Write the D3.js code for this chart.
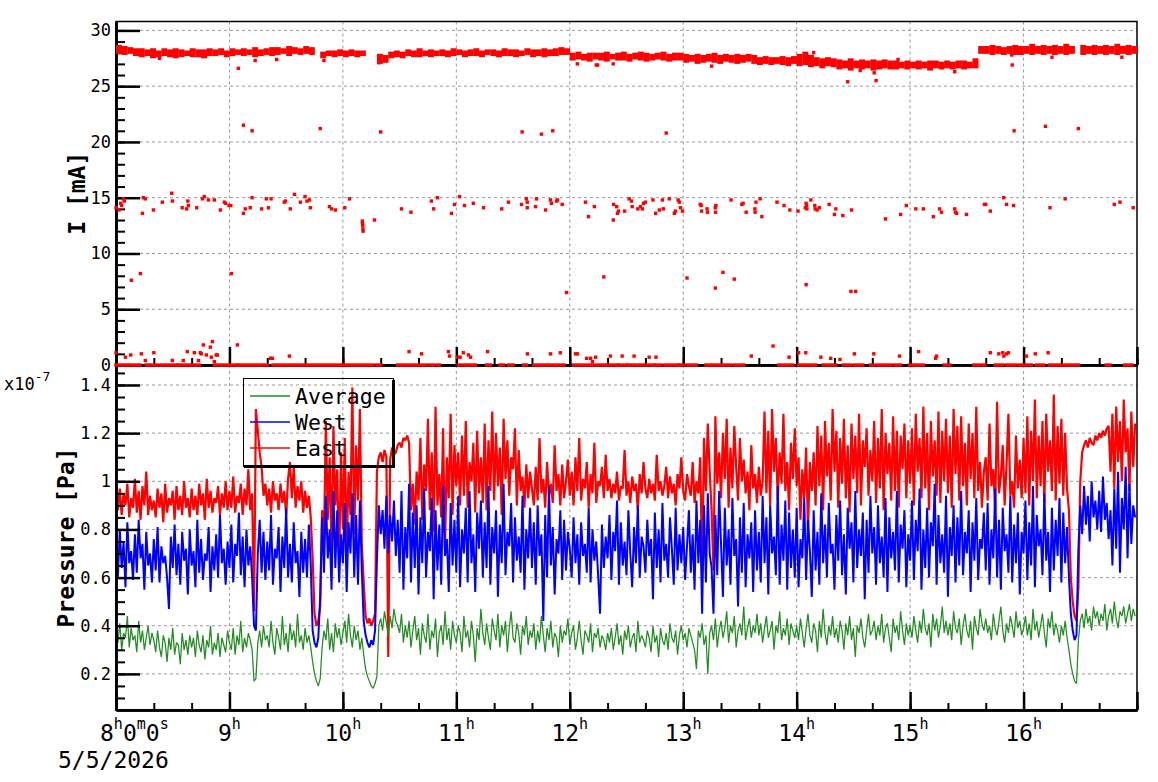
<!DOCTYPE html>
<html>
<head>
<meta charset="utf-8">
<script src="https://cdn.jsdelivr.net/npm/d3@7"></script>
<style>
  body { margin: 0; background: #fff; }
  svg { display: block; }
  text { font-family: "DejaVu Sans Mono", monospace; fill: #000; }
</style>
</head>
<body>
<svg id="chart" width="1158" height="782"></svg>
<script>
// time is in minutes after 08:00 on 5/5/2026, pressure samples are one per minute
// pressure values are in units of 1e-9 Pa (axis shows x10^-7)
const east = [
  94,88,97,86,95,90,99,85,93,89,101,87,96,84,98,90,104,86,94,88,
  92,85,97,89,95,83,99,87,93,90,96,84,98,88,94,86,100,89,93,85,
  97,88,94,86,99,90,95,84,101,89,96,87,93,91,98,86,95,89,100,88,
  96,89,102,87,94,91,99,86,97,90,105,88,95,46,130,121,112,106,94,99,
  90,97,87,100,92,95,88,99,91,96,86,101,108,93,106,89,98,92,100,87,
  96,89,94,85,68,45,40,42,48,88,75,125,84,110,72,123,90,105,66,112,
  80,118,70,104,86,139,78,115,92,130,74,58,44,41,43,40,42,45,104,110,
  112,108,113,110,27,109,114,111,112,115,116,114,118,117,119,116,88,99,82,104,
  92,118,84,107,96,126,88,112,79,131,90,103,85,122,72,110,93,128,86,115,
  98,112,90,119,94,125,89,108,100,116,87,121,95,110,91,124,88,117,96,129,
  92,120,98,114,86,126,101,117,94,110,105,122,90,113,96,102,89,107,93,104,
  97,90,106,92,118,95,101,89,108,94,99,91,115,96,103,90,107,93,100,109,
  94,104,90,110,96,118,92,101,97,108,89,103,95,116,91,100,98,106,93,111,
  96,101,93,99,95,104,92,98,97,113,94,100,91,102,96,99,88,103,95,108,
  97,93,101,95,99,92,111,96,100,94,98,106,93,102,95,99,90,103,97,110,
  96,92,103,98,94,108,91,100,95,110,62,118,96,124,104,88,63,127,99,112,
  93,120,101,126,89,114,97,123,106,92,118,100,109,95,104,88,115,97,103,91,
  106,94,100,129,95,121,90,130,104,118,92,112,99,128,96,108,88,116,101,122,
  98,110,84,105,93,114,80,108,96,112,90,123,98,119,88,125,102,116,92,130,
  104,121,89,118,99,126,93,115,87,124,101,119,95,128,90,117,106,122,94,113,
  100,125,91,118,97,130,88,120,103,116,92,127,96,121,89,119,105,124,93,117,
  99,122,90,128,104,118,93,131,97,120,88,125,102,117,94,129,91,121,100,126,
  95,119,89,130,103,123,92,127,98,116,90,124,101,120,93,131,96,108,89,104,
  110,92,124,98,105,88,133,95,102,115,90,107,128,94,100,89,119,97,109,93,
  118,95,127,90,121,100,134,93,119,98,125,91,128,104,117,96,136,92,123,99,
  126,94,120,97,88,60,50,44,42,56,100,112,115,117,114,118,116,115,119,117,
  120,118,121,119,122,123,104,128,97,131,108,125,100,134,112,122,96,129,106,124
];

const west = [
  72,60,80,64,75,56,83,66,71,59,78,62,84,68,74,55,79,65,70,58,
  76,63,81,58,73,66,69,60,47,77,64,82,61,74,57,79,67,72,53,80,
  65,71,56,84,62,76,59,70,67,81,54,73,63,78,60,86,66,72,57,75,
  64,82,58,74,69,87,61,77,56,80,65,73,60,40,38,70,84,62,79,59,
  75,63,86,57,72,68,81,54,77,64,89,60,74,58,83,66,71,52,79,62,
  76,60,82,65,38,33,31,35,52,85,62,94,68,80,55,96,64,88,58,78,
  66,91,54,83,70,95,60,86,57,92,63,42,36,33,31,34,32,38,67,90,
  78,88,72,94,70,86,75,92,69,84,62,96,55,81,68,99,58,87,64,90,
  53,85,66,97,60,79,71,93,51,88,63,82,57,98,69,76,54,91,65,84,
  62,94,56,80,70,89,58,96,66,78,54,87,72,92,60,83,64,98,57,81,
  70,88,52,82,66,99,61,79,73,91,58,85,67,77,62,94,55,80,68,89,
  64,83,57,90,69,78,42,86,60,98,65,81,53,76,70,88,59,84,63,79,
  72,60,85,66,78,57,83,69,74,62,89,58,80,67,75,61,45,82,64,77,
  68,86,59,79,71,92,57,83,65,75,61,88,70,56,81,66,90,60,77,73,
  62,84,69,76,51,87,64,80,58,91,67,74,60,85,72,57,89,63,78,66,
  81,59,73,88,62,78,55,92,66,84,45,90,58,95,70,64,45,86,61,96,
  74,52,89,65,80,57,93,69,76,48,85,62,91,56,78,68,83,54,88,63,
  79,58,94,66,85,53,90,70,77,61,98,57,82,67,92,55,87,64,80,60,
  89,56,76,68,93,59,84,71,52,88,63,79,57,95,66,82,60,91,70,74,
  55,86,67,92,61,78,53,89,72,83,58,96,64,80,69,87,51,84,62,94,
  70,81,57,90,66,77,60,93,54,85,68,79,63,96,58,82,72,88,56,78,
  67,92,59,84,71,97,55,80,64,89,60,83,73,99,57,86,66,78,62,94,
  52,81,69,90,58,85,65,96,61,79,70,88,54,83,67,93,59,76,72,87,
  63,91,57,80,68,97,60,84,55,89,71,78,62,94,58,82,66,87,53,79,
  70,92,59,83,65,98,56,86,73,80,61,95,67,79,54,89,63,84,69,93,
  58,87,66,81,60,45,38,34,36,72,90,78,98,82,94,75,100,85,92,80,
  96,79,102,84,91,76,88,65,97,72,104,62,93,80,106,68,99,74,90,85
];

const average = [
  38,33,41,30,37,35,44,31,39,34,36,29,42,33,38,30,35,40,32,37,
  34,29,38,31,27,36,33,25,35,30,39,28,33,32,24,37,30,34,28,36,
  31,35,27,38,32,29,36,26,34,31,40,28,33,30,37,27,35,32,29,38,
  33,30,39,28,36,32,42,29,35,31,37,34,30,17,18,33,38,31,40,34,
  36,31,42,33,28,39,35,30,44,32,37,29,41,34,38,31,45,33,36,30,
  39,33,36,31,25,20,17,15,18,31,38,34,43,30,37,29,41,35,39,32,
  37,42,33,45,36,31,40,34,38,30,35,28,22,19,17,15,14,16,19,40,
  43,38,46,41,36,44,39,47,42,40,37,45,33,40,35,42,31,38,44,34,
  39,28,41,36,33,45,30,38,35,43,27,37,40,32,46,34,39,30,42,36,
  33,40,37,29,44,35,38,31,42,36,25,39,34,47,37,32,41,35,30,43,
  38,34,45,31,40,36,42,29,39,46,35,33,41,37,28,40,36,44,32,38,
  35,41,30,38,33,44,36,29,39,34,42,31,37,35,27,40,33,38,36,43,
  32,37,40,30,35,42,34,28,38,36,33,41,29,37,35,39,31,36,34,30,
  37,33,39,30,35,41,32,36,28,38,34,40,31,35,37,29,42,33,36,34,
  31,38,35,29,40,33,36,27,39,34,32,37,30,41,35,33,38,28,36,40,
  34,37,31,39,36,33,30,22,38,35,41,32,36,20,37,40,34,43,31,38,
  42,35,39,46,33,40,37,44,31,38,41,36,48,34,39,43,35,40,37,45,
  36,41,33,39,44,35,38,42,30,40,37,46,34,39,36,43,32,41,38,35,
  40,34,43,37,31,39,45,36,33,41,38,29,42,35,47,37,32,40,36,44,
  35,39,33,42,38,30,41,36,44,34,39,27,40,37,43,35,31,38,45,36,
  38,42,34,40,36,45,33,39,41,35,29,43,37,40,34,46,38,32,41,36,
  40,35,44,38,33,42,37,47,39,36,41,31,45,38,43,35,40,48,37,42,
  36,41,34,46,39,37,43,32,40,45,38,35,42,30,44,39,36,47,41,38,
  43,37,40,34,45,39,36,42,48,38,33,41,37,44,40,35,46,39,42,36,
  39,44,36,41,34,47,38,42,35,40,45,37,31,43,39,46,36,41,38,33,
  40,36,42,35,30,24,20,17,16,34,42,45,39,47,41,44,38,48,43,46,
  40,45,42,49,38,44,47,41,50,43,39,46,44,48,41,45,49,42,47,44
];

// beam current: main band as [low, high] per 3-minute bin (null = no data), mA
const bandLo = [
  27.9,27.8,27.9,27.7,
  27.6,27.7,27.5,27.6,27.7,27.6,27.5,27.6,27.7,27.6,27.6,27.5,27.7,
  27.7,27.8,27.6,27.7,27.8,27.7,27.8,27.6,27.7,27.8,27.7,
  27.8,27.9,27.7,27.9,27.8,27.9,27.8,
  null,
  27.5,27.7,27.6,27.7,27.6,27.7,27.6,27.7,
  null,null,
  27.0,27.1,
  27.5,27.6,27.5,27.7,27.6,27.6,27.7,27.6,27.7,
  27.7,27.6,27.7,27.8,27.6,27.7,27.7,27.6,27.8,27.7,27.6,27.7,27.7,27.6,27.7,27.8,27.6,27.7,27.6,27.7,27.7,27.8,27.8,
  27.3,27.4,27.3,27.2,27.4,
  27.3,27.2,27.4,27.3,27.3,27.2,27.4,27.3,27.2,27.3,27.4,27.3,27.2,27.3,27.3,
  27.1,27.2,27.0,27.1,27.2,27.1,27.0,27.2,27.1,27.0,27.1,27.2,27.0,
  26.9,27.0,26.9,27.0,26.9,26.8,27.0,
  26.8,26.9,26.7,26.8,26.6,26.8,26.7,
  26.5,26.6,26.4,26.6,26.5,26.6,26.4,26.5,26.6,26.5,
  26.5,26.6,26.5,26.6,26.5,26.6,26.4,26.6,26.5,26.6,26.5,26.6,26.5,26.6,26.6,
  27.9,27.9,27.8,27.9,27.8,27.9,27.8,27.8,27.9,27.8,27.9,27.8,27.9,27.8,27.9,27.8,27.9,
  null,
  27.8,27.9,27.8,27.9,27.8,27.9,27.8,27.9,27.8,27.9
];
const bandHi = [
  28.7,28.6,28.5,28.4,
  28.4,28.3,28.4,28.2,28.4,28.3,28.4,28.3,28.2,28.4,28.3,28.3,28.4,
  28.3,28.4,28.2,28.4,28.3,28.4,28.3,28.5,28.3,28.4,28.5,
  28.5,28.4,28.6,28.5,28.4,28.6,28.5,
  null,
  28.1,28.2,28.2,28.3,28.2,28.3,28.2,28.2,
  null,null,
  27.9,27.8,
  28.1,28.2,28.1,28.3,28.2,28.4,28.2,28.3,28.2,
  28.3,28.2,28.4,28.3,28.2,28.3,28.4,28.2,28.3,28.3,28.2,28.4,28.3,28.3,28.2,28.4,28.3,28.3,28.4,28.3,28.4,28.5,28.4,
  28.0,28.1,27.9,28.0,28.0,
  28.0,28.1,27.9,28.0,28.1,27.9,28.0,28.1,28.0,27.9,28.0,28.1,27.9,28.0,28.0,
  27.9,27.8,27.9,27.8,27.9,28.0,27.8,27.9,27.8,27.9,27.8,27.9,27.8,
  27.6,27.7,27.6,27.6,27.7,27.6,27.7,
  27.9,28.1,27.8,27.6,27.5,27.6,27.5,
  27.4,27.3,27.5,27.3,27.4,27.3,27.4,27.3,27.4,27.3,
  27.3,27.2,27.3,27.2,27.3,27.2,27.3,27.3,27.2,27.3,27.2,27.3,27.3,27.2,27.5,
  28.6,28.6,28.7,28.6,28.5,28.6,28.7,28.6,28.6,28.8,28.6,28.7,28.6,28.7,28.6,28.8,28.6,
  null,
  28.7,28.6,28.7,28.6,28.7,28.6,28.8,28.6,28.7,28.6
];

// individual current readings away from the main band: [minute, mA]
const currentPts = [
  [0,14.1],[1.6,13.9],[2.5,14.5],[3,14.3],[3.9,14.9],[4.4,14.7],[14,13.6],[14.5,15.0],[15.5,14.9],[19.8,13.9],
  [24.5,14.6],[29.5,15.4],[29.8,14.7],[35,14.1],[37.4,14.0],[38,14.7],[38.3,14.3],[42.7,14.1],[45.7,14.9],[46.7,15.1],
  [48.9,14.8],[52,14.8],[55.2,13.9],[57.3,14.6],[58,14.5],[59.8,14.3],[60.7,14.3],[67.4,13.6],[68.4,14.0],[71,14.1],
  [72,15.0],[77,14.0],[79.5,14.9],[80.6,14.1],[82,14.9],[89,14.6],[89.6,14.7],[92.2,14.0],[94.4,15.3],[97.5,14.6],
  [100,15.1],[101,14.7],[102.3,14.8],[102.8,14.1],[112.9,14.2],[114,14.0],[116,13.9],[121,14.1],[123.5,14.9],
  [130.3,12.9],[130.4,12.7],[130.5,12.5],[130.6,12.2],[130.7,12.0],[136.7,13.0],[151,14.0],[156,13.7],[166.8,14.7],
  [168,14.0],[170,15.0],[177.4,13.6],[179,14.4],[181.7,15.1],[184.3,14.3],[189,14.5],[194.4,14.1],[204,14.0],
  [207.6,14.6],[214.5,14.4],[217,14.9],[217.5,14.6],[217.5,14.1],[221.9,14.2],[222.4,14.9],[227.2,13.9],[229.8,14.8],
  [230.3,14.5],[233,14.7],[233.5,14.8],[236,14.4],[248.3,14.6],[249.9,13.3],[253,14.2],
  [263,13.0],[263.2,14.4],[264.8,14.2],[265.2,13.6],[265.8,13.8],[269,13.8],[271.4,14.9],[272.6,14.7],[273,14.2],
  [276,14.0],[277.4,14.2],[278.4,14.0],[279,14.5],[280,14.6],[284,14.8],[285.4,13.6],[287.4,13.9],[289,14.8],
  [289.5,14.0],[292.6,14.9],[295.3,13.6],[295.9,13.8],[297.3,14.8],[297.9,14.6],[298.6,14.1],[299.6,13.8],[309,14.4],
  [309.5,14.3],[309.7,13.8],[312.6,14.0],[312.8,13.7],[317,14.1],[317.3,14.3],[317.1,13.7],[325.3,14.8],[331,14.4],
  [331.7,14.5],[333.3,13.7],[337.9,14.0],[338,13.7],[338.5,14.6],[340.7,14.9],[341.6,13.3],[349.6,14.6],[353.3,14.3],
  [356.4,13.9],[360.7,13.8],[364.6,14.1],[365,14.5],[365.2,14.3],[365.4,14.0],[367.5,14.8],[369.6,14.3],[369.8,14.0],
  [370.8,13.9],[372,14.1],[377.2,14.4],[380,13.5],[380.7,14.0],[384.4,13.4],[389,13.9],[407,13.1],[415,13.5],
  [418,14.3],[423,14.0],[427,14.0],[432.3,13.3],[435.6,14.0],[436.6,13.7],[443.6,14.0],[444,13.7],[444.6,13.6],
  [449.8,13.5],[459.3,14.4],[460,14.4],[462.4,13.8],[469.5,15.0],[471,14.4],[474.7,14.3],[494,14.1],[502,14.9],
  [528,14.4],[531,14.6],[538,14.1],
  [8.1,7.6],[12.9,8.2],[61,8.2],[238.3,6.5],[258,7.9],[302,7.8],[321,8.3],[317,6.9],[327,7.7],[365,7.2],
  [388.7,6.6],[391.2,6.6],
  [67.4,21.5],[72,21.0],[108,21.2],[140,20.9],[214.8,20.9],[225,20.7],[231,21.0],[291,20.8],[475,21.0],
  [491.6,21.4],[509,21.2],
  [23,27.5],[64.7,26.6],[73.6,27.3],[85,27.4],[110,27.3],[139,27.1],[244,27.0],[254,26.9],[254.7,26.9],[263,27.0],
  [315,26.8],[387,25.4],[402,25.5],[393.6,26.4],[401,26.2],[473.7,27.8],[474,26.9],[495,27.6],[532,27.6],
  [443.6,26.3],[369,28.0],[413.6,27.4],
  [0,1.1],[5,0.7],[7.8,0.9],[13.4,1.0],[15.5,0.4],[20,1.1],[29.8,0.4],[35.6,0.4],[37.7,1.2],[41.4,1.1],
  [43.6,0.4],[44.6,1.1],[45.1,1.0],[46.2,1.8],[47.8,0.9],[49.9,1.6],[51,2.1],[50.4,0.7],[52,0.3],[53,0.9],
  [53.6,0.9],[64.2,1.8],[81.7,0.6],[82.7,0.6],[91.7,0.8],[155,1.2],[161.6,1.0],[175.8,1.2],[176.4,0.8],[180.6,0.7],
  [182,0.7],[183.7,1.1],[186.4,0.9],[187.5,0.7],[196.5,1.2],[217.6,1.0],[229.8,1.0],[235,1.1],[243,1.0],[244,1.0],
  [248.9,0.6],[251,0.6],[252,0.3],[253.7,0.7],[261.5,0.8],[267.7,0.8],[274,0.8],[282,0.7],[285.6,0.7],[336,0.8],
  [347.5,1.7],[356,0.7],[361,1.1],[364.8,1.1],[372.8,0.7],[378,0.6],[382.9,0.5],[390.5,1.0],[400.8,1.0],[414.4,0.8],
  [424.5,1.2],[433.5,0.6],[434,0.8],[462.4,1.1],[466.9,1.0],[469,1.1],[469.6,0.8],[471,1.0],[472,1.1],[481.5,0.8],
  [486.2,1.0],[493,1.1]
];

// stretches of time where the current reads 0: [from minute, to minute]
const zeroRuns = [
  [0,12.7],[16,22],[24,32],[33,44],[52,64],[65,80],[83,118.5],[120,136],[138,140],[149,164],[166,168],[170,171],
  [181,182],[184,185.5],[187,190],[196,198],[203,205],[207.6,210],[215.5,217],[221,237],[242,251.4],[253,259],
  [260,265],[266,270],[271,279],[280.5,284.4],[285.4,288],[290,297],[298,300],[302,307],[312,314.6],[315.6,325],
  [327,332],[350.6,358],[361,370],[374,380.7],[384.6,388.5],[390.5,395],[399,401],[403,410],[412,415],[419.6,427],
  [438,441],[453.7,456.6],[458.6,459.5],[465,469],[471,476],[478,484],[486.8,490.7],[493.6,498.4],[500,509],
  [523.7,525.7],[533.5,537.4]
];

const hourTicks = [0,60,120,180,240,300,360,420,480,540];
const hourLabels = ["8","9","10","11","12","13","14","15","16"];
const currentTicks = [0,5,10,15,20,25,30];
const pressureTicks = [20,40,60,80,100,120,140];

const svg = d3.select("#chart");
const left = 116, right = 1137, topY = 21.5, midY = 365, botY = 710;

const x = d3.scaleLinear().domain([0, 540]).range([left, right]);
const yI = d3.scaleLinear().domain([0, 30.8]).range([midY, topY]);
const yP = d3.scaleLinear().domain([5, 148.3]).range([botY, midY]);

const gridColor = "#9a9a9a";

// grids
function grid(g, yScale, yVals, y0, y1) {
  g.selectAll(".gx").data(hourTicks.slice(1, -1)).join("line")
    .attr("x1", d => x(d)).attr("x2", d => x(d))
    .attr("y1", y0).attr("y2", y1);
  g.selectAll(".gy").data(yVals).join("line")
    .attr("x1", left).attr("x2", right)
    .attr("y1", d => yScale(d)).attr("y2", d => yScale(d));
  g.selectAll("line").attr("stroke", gridColor).attr("stroke-width", 1)
    .attr("stroke-dasharray", "3,3");
}
grid(svg.append("g"), yI, currentTicks.filter(d => d > 0), topY, midY);
grid(svg.append("g"), yP, pressureTicks, midY, botY);

// pressure lines
svg.append("clipPath").attr("id", "clipP").append("rect")
  .attr("x", left).attr("y", midY).attr("width", right - left).attr("height", botY - midY);

const line = d3.line().x((d, i) => x(i)).y(d => yP(d));
const series = [
  { name: "East", data: east, color: "#ff0000", w: 2.2 },
  { name: "West", data: west, color: "#0000ff", w: 2 },
  { name: "Average", data: average, color: "#228b22", w: 1.25 }
];
const pg = svg.append("g").attr("clip-path", "url(#clipP)");
series.forEach(s => {
  pg.append("path").datum(s.data)
    .attr("d", line)
    .attr("fill", "none")
    .attr("stroke", s.color)
    .attr("stroke-linejoin", "bevel")
    .attr("stroke-width", s.w);
});

// current panel
const cg = svg.append("g").attr("fill", "#ff0000");
const bins = bandLo.map((lo, i) => ({ i, lo, hi: bandHi[i] })).filter(d => d.lo !== null);
cg.selectAll(".band").data(bins).join("rect")
  .attr("x", d => x(d.i * 3))
  .attr("width", x(3) - x(0) + 0.3)
  .attr("y", d => yI(d.hi))
  .attr("height", d => yI(d.lo) - yI(d.hi));
const ms = 3.4;
cg.selectAll(".pt").data(currentPts).join("rect")
  .attr("x", d => x(d[0]) - ms / 2)
  .attr("y", d => yI(d[1]) - ms / 2)
  .attr("width", ms).attr("height", ms);

// axes
function styleAxis(g, w) {
  g.selectAll(".domain").attr("stroke-width", 2.5).attr("stroke", "#000");
  g.selectAll(".tick line").attr("stroke-width", w).attr("stroke", "#000");
  g.selectAll("text").attr("font-family", "DejaVu Sans Mono").attr("font-size", 17).attr("fill", "#000");
}

// frames
[[topY, midY], [midY, botY]].forEach(([a, b]) => {
  svg.append("rect").attr("x", left).attr("y", a).attr("width", right - left).attr("height", b - a)
    .attr("fill", "none").attr("stroke", "#000").attr("stroke-width", 1.5);
});

svg.append("g").attr("transform", `translate(${left},0)`)
  .call(d3.axisLeft(yI).tickValues(d3.range(0, 31, 1)).tickSize(-9).tickSizeOuter(0).tickFormat(""))
  .call(g => styleAxis(g, 2));
svg.append("g").attr("transform", `translate(${left},0)`)
  .call(d3.axisLeft(yI).tickValues(currentTicks).tickSize(-24).tickSizeOuter(0).tickPadding(5))
  .call(g => styleAxis(g, 2.5));

svg.append("g").attr("transform", `translate(${left},0)`)
  .call(d3.axisLeft(yP).tickValues(d3.range(10, 146, 5)).tickSize(-9).tickSizeOuter(0).tickFormat(""))
  .call(g => styleAxis(g, 2));
svg.append("g").attr("transform", `translate(${left},0)`)
  .call(d3.axisLeft(yP).tickValues(pressureTicks).tickSize(-24).tickSizeOuter(0).tickPadding(5)
    .tickFormat(d => String(d / 100)))
  .call(g => styleAxis(g, 2.5));

[midY, botY].forEach(yy => {
  svg.append("g").attr("transform", `translate(0,${yy})`)
    .call(d3.axisBottom(x).tickValues(d3.range(0, 541, 20)).tickSize(-7).tickSizeOuter(0).tickFormat(""))
    .call(g => styleAxis(g, 2));
  svg.append("g").attr("transform", `translate(0,${yy})`)
    .call(d3.axisBottom(x).tickValues(hourTicks).tickSize(-18).tickSizeOuter(0).tickFormat(""))
    .call(g => styleAxis(g, 2.5));
});

// zero readings on top of the axis
cg.selectAll(".zero").data(zeroRuns).join("rect")
  .attr("x", d => x(d[0]) - ms / 2)
  .attr("width", d => x(d[1]) - x(d[0]) + ms)
  .attr("y", yI(0) - ms / 2)
  .attr("height", ms);
svg.node().appendChild(cg.node());

// time labels
const tl = svg.append("g");
const first = tl.append("text").attr("x", x(0) - 16).attr("y", 741).attr("font-size", 23);
[["8", 0], ["h", -12], ["0", 12], ["m", -12], ["0", 12], ["s", -12]].forEach(([t, dy], k) => {
  first.append("tspan").attr("dy", dy).attr("font-size", k % 2 ? 15 : 23).text(t);
});
hourTicks.slice(1, 9).forEach((h, k) => {
  const t = tl.append("text").attr("x", x(h)).attr("y", 741).attr("text-anchor", "middle").attr("font-size", 23);
  t.append("tspan").text(hourLabels[k + 1]);
  t.append("tspan").attr("dy", -12).attr("font-size", 15).text("h");
});
tl.append("text").attr("x", 58).attr("y", 768).attr("font-size", 23).text("5/5/2026");

// axis titles
svg.append("text").attr("transform", `translate(85,${(topY + midY) / 2}) rotate(-90)`)
  .attr("text-anchor", "middle").attr("font-size", 23).attr("font-weight", "bold").text("I [mA]");
svg.append("text").attr("transform", `translate(74,${(midY + botY) / 2}) rotate(-90)`)
  .attr("text-anchor", "middle").attr("font-size", 23).attr("font-weight", "bold").text("Pressure [Pa]");

const ex = svg.append("text").attr("x", 4).attr("y", 390).attr("font-size", 17);
ex.append("tspan").text("x10");
ex.append("tspan").attr("dy", -9).attr("font-size", 13).text("-7");

// legend
const lg = svg.append("g");
lg.append("rect").attr("x", 243.5).attr("y", 378.5).attr("width", 150).attr("height", 88)
  .attr("fill", "none").attr("stroke", "#000").attr("stroke-width", 1);
lg.append("line").attr("x1", 244).attr("x2", 395).attr("y1", 466.5).attr("y2", 466.5)
  .attr("stroke", "#000").attr("stroke-width", 3);
lg.append("line").attr("x1", 393.5).attr("x2", 393.5).attr("y1", 380).attr("y2", 468)
  .attr("stroke", "#000").attr("stroke-width", 3);
const legendRows = [series[2], series[1], series[0]];
legendRows.forEach((s, k) => {
  const yy = [396, 422, 448][k];
  lg.append("line").attr("x1", 250).attr("x2", 290).attr("y1", yy).attr("y2", yy)
    .attr("stroke", s.color).attr("stroke-width", 1.6);
  lg.append("text").attr("x", 295).attr("y", yy).attr("dy", "0.35em").attr("font-size", 21.5).text(s.name);
});
</script>
</body>
</html>
